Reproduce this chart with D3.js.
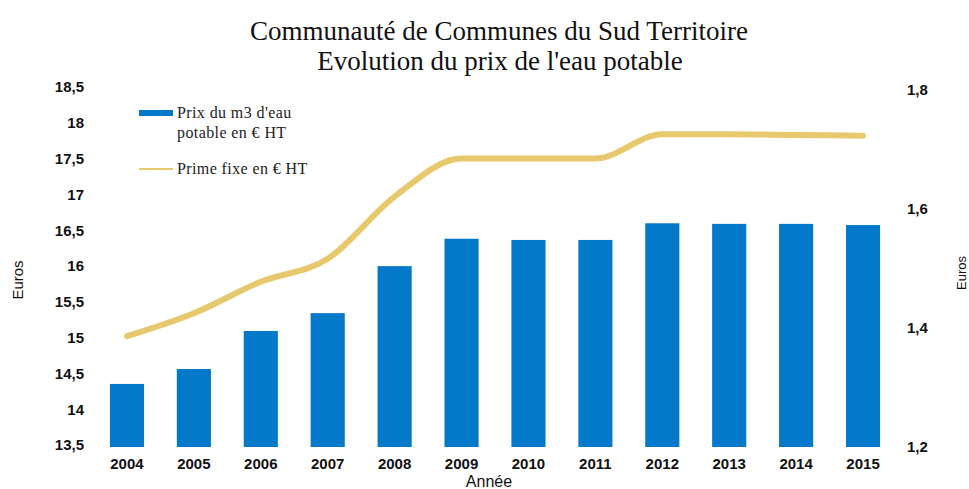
<!DOCTYPE html>
<html>
<head>
<meta charset="utf-8">
<script src="https://cdn.jsdelivr.net/npm/d3@7"></script>
<style>
  body { margin: 0; background: #fff; }
  svg { display: block; }
</style>
</head>
<body>
<div id="chart"></div>
<script>
var annees = ["2004","2005","2006","2007","2008","2009","2010","2011","2012","2013","2014","2015"]
// prix du m3 (axe de droite)
var prixM3 = [1.306, 1.331, 1.395, 1.425, 1.504, 1.55, 1.548, 1.548, 1.576, 1.575, 1.575, 1.573]
// prime fixe (axe de gauche)
var primeFixe = [15.02, 15.34, 15.78, 16.1, 16.97, 17.5, 17.5, 17.5, 17.84, 17.84, 17.83, 17.82]
var ticksGauche = [13.5, 14, 14.5, 15, 15.5, 16, 16.5, 17, 17.5, 18, 18.5]
var ticksDroite = [1.2, 1.4, 1.6, 1.8]

var width = 969, height = 489

var svg = d3.select("#chart").append("svg")
    .attr("width", width)
    .attr("height", height)

var xScale = d3.scaleBand().domain(annees).range([93.5, 896.5]).paddingInner(0.49).paddingOuter(0.245)
var yLeft = d3.scaleLinear().domain([13.5, 18.5]).range([445, 87])
var yRight = d3.scaleLinear().domain([1.2, 1.8]).range([447, 90])

var fmt = function(d){ return String(d).replace(".", ",") }

// titre
svg.append("text")
    .attr("x", 499).attr("y", 40)
    .attr("text-anchor", "middle")
    .style("font-family", "Liberation Serif, serif")
    .style("font-size", "27px")
    .attr("fill", "#111")
    .text("Communauté de Communes du Sud Territoire")
svg.append("text")
    .attr("x", 500).attr("y", 70)
    .attr("text-anchor", "middle")
    .style("font-family", "Liberation Serif, serif")
    .style("font-size", "27px")
    .attr("fill", "#111")
    .text("Evolution du prix de l'eau potable")

// barres
svg.selectAll(".bar")
    .data(prixM3)
    .enter()
    .append("rect")
    .attr("class", "bar")
    .attr("x", function(d, i){ return xScale(annees[i]) })
    .attr("width", xScale.bandwidth())
    .attr("y", function(d){ return yRight(d) })
    .attr("height", function(d){ return yRight(1.2) - yRight(d) })
    .attr("fill", "#0479C9")

// ligne
var line = d3.line()
    .x(function(d, i){ return xScale(annees[i]) + xScale.bandwidth()/2 })
    .y(function(d){ return yLeft(d) })
    .curve(d3.curveMonotoneX)

svg.append("path")
    .datum(primeFixe)
    .attr("d", line)
    .attr("fill", "none")
    .attr("stroke", "#E8C86C")
    .attr("stroke-width", 6)
    .attr("stroke-linecap", "round")
    .attr("stroke-linejoin", "round")

// axes
var axeGauche = svg.append("g")
    .attr("transform", "translate(90,0)")
    .call(d3.axisLeft(yLeft).tickValues(ticksGauche).tickFormat(fmt).tickSize(0).tickPadding(6))
var axeDroite = svg.append("g")
    .attr("transform", "translate(901,0)")
    .call(d3.axisRight(yRight).tickValues(ticksDroite).tickFormat(fmt).tickSize(0).tickPadding(6))
var axeBas = svg.append("g")
    .attr("transform", "translate(0,458)")
    .call(d3.axisBottom(xScale).tickSize(0).tickPadding(0))

svg.selectAll(".domain").remove()
svg.selectAll(".tick text")
    .style("font-family", "Liberation Sans, Arial, sans-serif")
    .style("font-size", "15px")
    .style("font-weight", "bold")
    .attr("fill", "#111")
axeBas.selectAll(".tick text").attr("dy", "0.71em")

// titres des axes
svg.append("text")
    .attr("transform", "translate(23,280) rotate(-90)")
    .attr("text-anchor", "middle")
    .style("font-family", "Liberation Sans, Arial, sans-serif")
    .style("font-size", "15px")
    .attr("fill", "#111")
    .text("Euros")
svg.append("text")
    .attr("transform", "translate(966,273) rotate(-90)")
    .attr("text-anchor", "middle")
    .style("font-family", "Liberation Sans, Arial, sans-serif")
    .style("font-size", "13px")
    .attr("fill", "#111")
    .text("Euros")
svg.append("text")
    .attr("x", 489).attr("y", 487)
    .attr("text-anchor", "middle")
    .style("font-family", "Liberation Sans, Arial, sans-serif")
    .style("font-size", "16px")
    .attr("fill", "#111")
    .text("Année")

// légende
svg.append("rect")
    .attr("x", 139).attr("y", 110).attr("width", 34).attr("height", 6)
    .attr("fill", "#0479C9")
svg.append("line")
    .attr("x1", 139).attr("x2", 173).attr("y1", 169).attr("y2", 169)
    .attr("stroke", "#E8C86C").attr("stroke-width", 2)
var legTextes = [["Prix du m3 d'eau", 118], ["potable en € HT", 138], ["Prime fixe en € HT", 174]]
legTextes.forEach(function(t){
    svg.append("text")
        .attr("x", 177).attr("y", t[1])
        .style("font-family", "Liberation Serif, serif")
        .style("font-size", "16px")
        .style("letter-spacing", "0.4px")
        .attr("fill", "#222")
        .text(t[0])
})
</script>
</body>
</html>
